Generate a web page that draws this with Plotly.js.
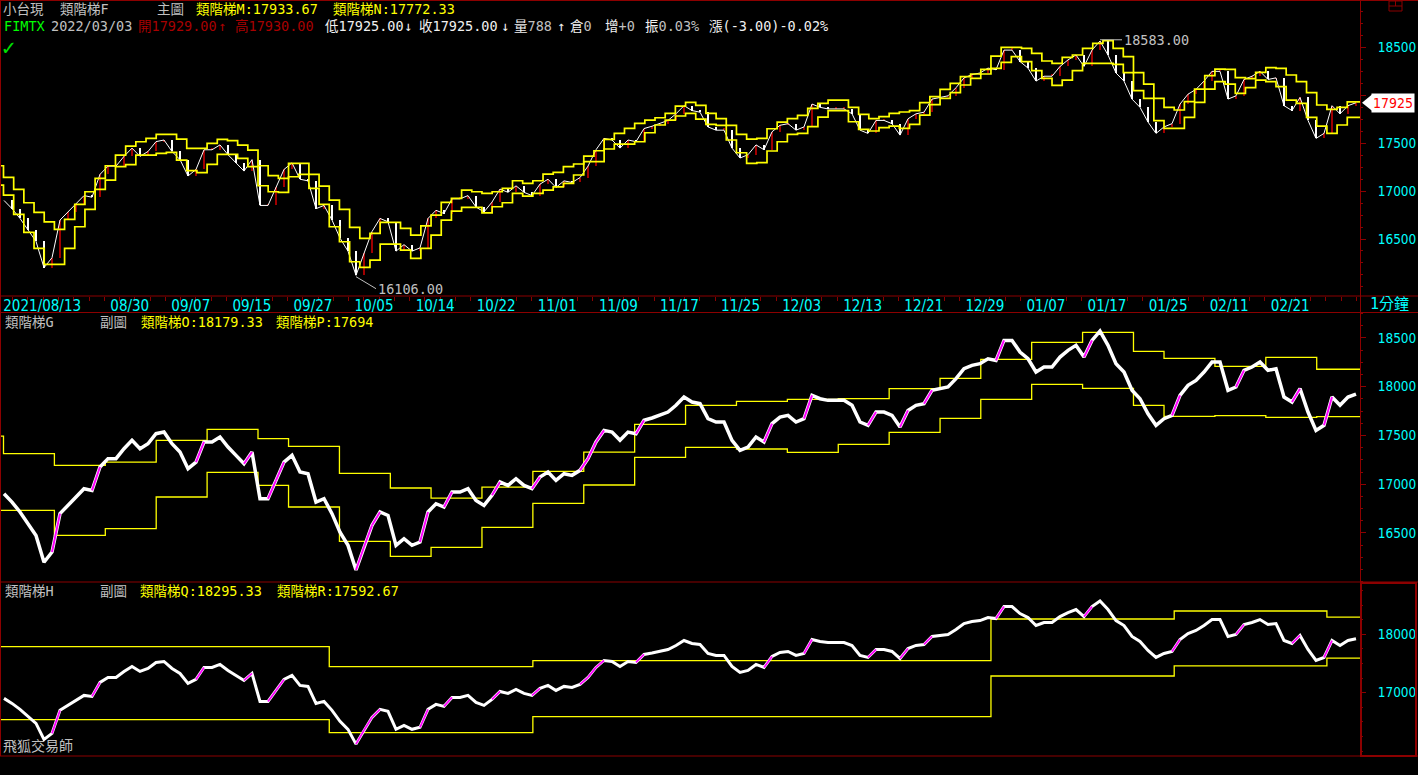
<!DOCTYPE html>
<html><head><meta charset="utf-8">
<script src="https://cdn.plot.ly/plotly-3.0.1.min.js"></script>
<style>html,body{margin:0;padding:0;background:#000;overflow:hidden}#chart{width:1418px;height:775px}</style>
</head><body><div id="chart"></div>
<script>
// ---------------- DATA ----------------
// price samples (8 bars apart)
const price = [16903, 16817, 16715, 16595, 16475, 16200, 16304, 16698, 16783, 16868,
 16954, 16937, 17176, 17262, 17262, 17364, 17450, 17364, 17415, 17518,
 17535, 17415, 17330, 17159, 17227, 17433, 17433, 17484, 17381, 17296,
 17210, 17330, 16851, 16851, 17039, 17227, 17296, 17125, 17108, 16817,
 16851, 16698, 16509, 16373, 16120, 16356, 16578, 16715, 16680, 16373,
 16441, 16373, 16407, 16715, 16800, 16766, 16920, 16920, 16954, 16834,
 16783, 16886, 17022, 16988, 17056, 16988, 16954, 17074, 17125, 17039,
 17108, 17091, 17142, 17262, 17433, 17552, 17535, 17450, 17535, 17518,
 17655, 17679, 17706, 17740, 17809, 17894, 17843, 17826, 17672, 17638,
 17638, 17450, 17347, 17381, 17484, 17433, 17621, 17689, 17706, 17638,
 17672, 17911, 17877, 17860, 17860, 17860, 17809, 17638, 17604, 17740,
 17740, 17706, 17586, 17757, 17809, 17826, 17963, 17980, 17997, 18082,
 18185, 18219, 18236, 18287, 18270, 18475, 18475, 18356, 18287, 18151,
 18202, 18202, 18304, 18373, 18424, 18304, 18475, 18570, 18424, 18236,
 18151, 17963, 17877, 17723, 17604, 17672, 17706, 17911, 18014, 18065,
 18151, 18253, 18253, 17963, 17997, 18168, 18202, 18253, 18168, 18185,
 17894, 17843, 17980, 17740, 17552, 17604, 17894, 17809, 17894, 17925];

// daily ladder (main chart): 類階梯M (upper) and 類階梯N (lower), one value per trading day (day -1 .. 132)
const ladderM = [17266, 17144, 17019, 16879, 16778, 16680, 16600, 16705, 16862, 16994,
 17134, 17266, 17378, 17472, 17517, 17552, 17594, 17594, 17545, 17448,
 17448, 17500, 17542, 17528, 17482, 17430, 17266, 17162, 17134, 17291,
 17291, 17176, 17053, 16907, 16809, 16621, 16506, 16558, 16673, 16673,
 16611, 16541, 16638, 16750, 16883, 16924, 17012, 16994, 16977, 16994,
 17029, 17109, 17081, 17109, 17179, 17196, 17256, 17284, 17367, 17423,
 17542, 17604, 17657, 17709, 17744, 17768, 17814, 17890, 17929, 17897,
 17814, 17758, 17688, 17594, 17545, 17552, 17653, 17723, 17758, 17793,
 17866, 17918, 17953, 17953, 17876, 17803, 17758, 17779, 17814, 17828,
 17842, 17925, 17988, 18065, 18127, 18197, 18225, 18274, 18413, 18504,
 18504, 18494, 18441, 18361, 18337, 18399, 18424, 18494, 18546, 18574,
 18494, 18406, 18239, 18120, 17971, 17876, 17849, 17936, 18068, 18208,
 18277, 18274, 18187, 18176, 18243, 18291, 18284, 18215, 18145, 18030,
 17901, 17855, 17876, 17934];
const ladderN = [17064, 16959, 16757, 16569, 16401, 16234, 16234, 16401, 16628, 16809,
 17019, 17116, 17256, 17277, 17378, 17378, 17395, 17406, 17325, 17214,
 17193, 17280, 17385, 17385, 17343, 17256, 17057, 16994, 16987, 17151,
 17176, 17029, 16862, 16628, 16471, 16262, 16203, 16279, 16447, 16447,
 16384, 16297, 16401, 16541, 16698, 16792, 16830, 16830, 16774, 16837,
 16879, 16977, 16949, 16977, 17012, 17046, 17081, 17169, 17308, 17308,
 17441, 17493, 17493, 17517, 17611, 17692, 17744, 17786, 17814, 17754,
 17699, 17688, 17535, 17402, 17291, 17298, 17420, 17517, 17594, 17604,
 17674, 17775, 17842, 17842, 17726, 17646, 17629, 17664, 17681, 17657,
 17699, 17796, 17904, 17971, 18030, 18110, 18180, 18225, 18284, 18347,
 18406, 18354, 18260, 18180, 18107, 18162, 18260, 18337, 18337, 18337,
 18326, 18239, 18051, 17971, 17737, 17657, 17657, 17772, 17929, 18068,
 18145, 18120, 18023, 18082, 18162, 18145, 18093, 17953, 17918, 17772,
 17681, 17604, 17692, 17772];

// weekly ladder (sub chart G): 類階梯O / 類階梯P, start day of each step
const ladderGStart = [-1, 0, 5, 10, 15, 20, 25, 28, 33, 38, 42, 47, 52, 57, 62, 67, 72, 77, 82, 87, 92, 96, 101, 106, 111, 114, 119, 124, 129];
const ladderO = [17494, 17313, 17193, 17227, 17450, 17563, 17467, 17388, 17111, 16961, 16858, 16971, 17132, 17330, 17614, 17809, 17850, 17870, 17877, 17980, 18086, 18280, 18455, 18557, 18363, 18291, 18209, 18301, 18179];
const ladderP = [16732, 16732, 16475, 16544, 16869, 17121, 16988, 16766, 16414, 16260, 16352, 16557, 16803, 16992, 17275, 17378, 17361, 17327, 17409, 17532, 17675, 17870, 18024, 17983, 17809, 17696, 17703, 17686, 17694];

// monthly ladder (sub chart H): 類階梯Q / 類階梯R
const ladderHStart = [-1, 32, 52, 97, 115, 130];
const ladderQ = [17789, 17447, 17550, 18262, 18399, 18295];
const ladderR = [16538, 16315, 16589, 17286, 17458, 17593];

// axes
const dateTickDay = [0, 12, 18, 24, 30, 36, 42, 48, 54, 60, 66, 72, 78, 84, 90, 96, 102, 108, 114, 120, 126];
const dateTickText = ['2021/08/13', '08/30', '09/07', '09/15', '09/27', '10/05', '10/14', '10/22', '11/01', '11/09', '11/17', '11/25', '12/03', '12/13', '12/21', '12/29', '01/07', '01/17', '01/25', '02/11', '02/21'];
const mainPriceTicks = [16500, 17000, 17500, 18000, 18500];
const mainPriceTickText = ['16500', '17000', '17500', '', '18500'];   // 18000 is covered by the last-price flag
const subGTicks = [16500, 17000, 17500, 18000, 18500];
const subHTicks = [17000, 18000];

const lowValue = 16106.00, highValue = 18583.00, lastPrice = 17925;

// ---------------- LAYOUT HELPERS ----------------
const W = 1418, H = 775;
const PX_PER_DAY = 10.18, DAY0_PX = 3.5, PLOT_R = 1360;
const X_MIN = -DAY0_PX / PX_PER_DAY, X_MAX = (PLOT_R - DAY0_PX) / PX_PER_DAY;
const priceDay = price.map((_, i) => (i * 8 + 0.5) / PX_PER_DAY);
const px = x => x / W, py = y => 1 - y / H;

const RED = '#8c0000', CYAN = '#00ffff', YEL = '#ffff00', GRAY = '#c0c0c0';
const MONO = "'DejaVu Sans Mono','Noto Sans CJK TC',monospace";
const NUMF = "'Liberation Sans Narrow','DejaVu Sans Condensed',sans-serif";

function stepTrace(start, vals, xa, ya, width) {
  return { type: 'scatter', mode: 'lines', x: start.concat([X_MAX + 1]), y: vals.concat([vals[vals.length - 1]]),
    xaxis: xa, yaxis: ya, line: { shape: 'hv', color: YEL, width: width }, hoverinfo: 'skip' };
}
function magentaTrace(xa, ya, width) {
  const x = [], y = [];
  for (let i = 1; i < price.length; i++) {
    if (price[i] - price[i - 1] > 110) { x.push(priceDay[i - 1], priceDay[i], null); y.push(price[i - 1], price[i], null); }
  }
  return { type: 'scatter', mode: 'lines', x, y, xaxis: xa, yaxis: ya, line: { color: '#ff00ff', width: width }, hoverinfo: 'skip' };
}

const topDays = ladderM.map((_, k) => k - 1);
const candleBase = [], candleH = [], candleC = [], candleX = [];
for (let i = 1; i < price.length; i++) {
  const o = price[i - 1], c = price[i];
  candleX.push(priceDay[i]);
  candleBase.push(Math.min(o, c));
  candleH.push(Math.max(Math.abs(c - o), 20));
  candleC.push(c >= o ? '#a00000' : '#ffffff');
}

const traces = [
  { type: 'scatter', mode: 'lines', x: priceDay, y: price, xaxis: 'x', yaxis: 'y', line: { color: '#ffffff', width: 1 }, hoverinfo: 'skip' },
  { type: 'bar', x: candleX, base: candleBase, y: candleH, width: 0.2, xaxis: 'x', yaxis: 'y', marker: { color: candleC, line: { width: 0 } }, hoverinfo: 'skip' },
  stepTrace(topDays, ladderM, 'x', 'y', 1.7),
  stepTrace(topDays, ladderN, 'x', 'y', 1.7),
  stepTrace(ladderGStart, ladderO, 'x2', 'y2', 1.3),
  stepTrace(ladderGStart, ladderP, 'x2', 'y2', 1.3),
  { type: 'scatter', mode: 'lines', x: priceDay, y: price, xaxis: 'x2', yaxis: 'y2', line: { color: '#ffffff', width: 3.5 }, hoverinfo: 'skip' },
  magentaTrace('x2', 'y2', 2),
  stepTrace(ladderHStart, ladderQ, 'x3', 'y3', 1.3),
  stepTrace(ladderHStart, ladderR, 'x3', 'y3', 1.3),
  { type: 'scatter', mode: 'lines', x: priceDay, y: price, xaxis: 'x3', yaxis: 'y3', line: { color: '#ffffff', width: 3 }, hoverinfo: 'skip' },
  magentaTrace('x3', 'y3', 1.8)
];

const dateTickPos = dateTickDay.map((d, k) => k === 0 ? d + 3.8 : d + 0.4);

const yBase = {
  side: 'right', showgrid: false, zeroline: false, showline: false, fixedrange: true,
  tickmode: 'array', ticks: 'outside', ticklen: 5, tickcolor: RED, tickwidth: 1,
  tickfont: { family: NUMF, size: 13.5, color: CYAN }, ticklabelstandoff: 9,
  minor: { ticks: 'outside', ticklen: 2, tickcolor: RED, dtick: 125, showgrid: false }
};
const xDomain = [0, PLOT_R / W];

function txt(x, y, text, color, size) {
  return { xref: 'paper', yref: 'paper', x: px(x), y: py(y), xanchor: 'left', yanchor: 'middle', text: text,
    showarrow: false, font: { family: MONO, size: size || 13.5, color: color } };
}
const DR = '#a80000', WH = '#f0f0f0';
const annotations = [
  txt(1, 9, '小台現', GRAY), txt(58, 9, '類階梯F', GRAY), txt(155, 9, '主圖', GRAY),
  txt(194, 9, '類階梯M:17933.67', YEL), txt(331, 9, '類階梯N:17772.33', YEL),
  txt(2, 26, 'FIMTX', '#00ff00'), txt(49, 26, '2022/03/03', GRAY),
  txt(136, 26, '開17929.00', DR), txt(216, 26, '↑', DR), txt(233, 26, '高17930.00', DR),
  txt(323, 26, '低17925.00', WH), txt(402, 26, '↓', WH), txt(417, 26, '收17925.00', WH), txt(499, 26, '↓', WH),
  txt(512, 26, '量<span style="color:#c0c0c0">788</span>', WH), txt(555, 26, '↑', WH),
  txt(568, 26, '倉<span style="color:#c0c0c0">0</span>', WH), txt(603, 26, '增<span style="color:#c0c0c0">+0</span>', WH),
  txt(643, 26, '振<span style="color:#c0c0c0">0.03%</span>', WH), txt(707, 26, '漲(-3.00)-0.02%', WH),
  txt(0, 47, '<b>✓</b>', '#00e000', 22),
  txt(3, 322, '類階梯G', GRAY), txt(98, 322, '副圖', GRAY), txt(139, 322, '類階梯O:18179.33', YEL), txt(274, 322, '類階梯P:17694', YEL),
  txt(3, 591, '類階梯H', GRAY), txt(98, 591, '副圖', GRAY), txt(138, 591, '類階梯Q:18295.33', YEL), txt(275, 591, '類階梯R:17592.67', YEL),
  txt(1, 746, '飛狐交易師', GRAY, 14),
  txt(1368, 304, '1分鐘', CYAN, 15),
  { xref: 'x', yref: 'y', x: priceDay[44], y: lowValue, text: lowValue.toFixed(2), showarrow: true, arrowhead: 0, arrowwidth: 1,
    arrowcolor: GRAY, ax: 20, ay: 12, xanchor: 'left', yanchor: 'middle', font: { family: MONO, size: 13.5, color: GRAY } },
  { xref: 'x', yref: 'y', x: priceDay[137], y: highValue, text: highValue.toFixed(2), showarrow: true, arrowhead: 0, arrowwidth: 1,
    arrowcolor: GRAY, ax: 22, ay: 0, xanchor: 'left', yanchor: 'middle', font: { family: MONO, size: 13.5, color: GRAY } },
  { xref: 'paper', yref: 'y', x: px(1371), y: lastPrice, text: String(lastPrice), showarrow: false, xanchor: 'left', yanchor: 'middle',
    bgcolor: '#ffffff', borderpad: 1, font: { family: NUMF, size: 14, color: '#ff0000' } }
];

function ln(x0, y0, x1, y1, w) {
  return { type: 'line', xref: 'paper', yref: 'paper', x0: px(x0), y0: py(y0), x1: px(x1), y1: py(y1), line: { color: RED, width: w || 1 }, layer: 'above' };
}
const shapes = [
  ln(0, 0.5, W, 0.5), ln(0.5, 0, 0.5, 756), ln(1360.5, 0, 1360.5, 756),
  ln(0, 296, W, 296), ln(0, 312.5, W, 312.5), ln(0, 582, W, 582), ln(0, 756, W, 756),
  { type: 'rect', xref: 'paper', yref: 'paper', x0: px(1361), y0: py(583), x1: px(1416), y1: py(756), line: { color: RED, width: 2 }, layer: 'above' },
  { type: 'rect', xref: 'paper', yref: 'paper', x0: px(1389), y0: py(1), x1: px(1402), y1: py(11), line: { color: RED, width: 1 }, layer: 'above' },
  ln(1389, 6, 1402, 6), ln(1395.5, 1, 1395.5, 6),
  { type: 'path', xref: 'paper', yref: 'y', path: `M ${px(1362)} ${lastPrice} L ${px(1372)} ${lastPrice + 85} L ${px(1372)} ${lastPrice - 85} Z`,
    fillcolor: '#ffffff', line: { width: 0 }, layer: 'above' }
];

const layout = {
  width: W, height: H, paper_bgcolor: '#000', plot_bgcolor: '#000', margin: { l: 0, r: 0, t: 0, b: 0, pad: 0 },
  showlegend: false, bargap: 0,
  xaxis: { domain: xDomain, range: [X_MIN, X_MAX], anchor: 'y', showgrid: false, zeroline: false, showline: false,
    tickmode: 'array', tickvals: dateTickPos, ticktext: dateTickText, ticks: '', ticklen: 0,
    tickfont: { family: NUMF, size: 15, color: CYAN }, ticklabelstandoff: -1,
    minor: { ticks: 'outside', ticklen: 4, tickcolor: RED, dtick: 1.5, tick0: 0.9, showgrid: false } },
  xaxis2: { domain: xDomain, range: [X_MIN, X_MAX], anchor: 'y2', visible: false },
  xaxis3: { domain: xDomain, range: [X_MIN, X_MAX], anchor: 'y3', visible: false },
  yaxis: Object.assign({}, yBase, { domain: [py(296), 1], range: [15904, 18999], anchor: 'x', tickvals: mainPriceTicks, ticktext: mainPriceTickText }),
  yaxis2: Object.assign({}, yBase, { domain: [py(582), py(313)], range: [15997, 18756], anchor: 'x2', tickvals: subGTicks, ticktext: subGTicks.map(String) }),
  yaxis3: Object.assign({}, yBase, { domain: [py(756), py(582)], range: [15916, 18896], anchor: 'x3', tickvals: subHTicks, ticktext: subHTicks.map(String),
    minor: { ticks: 'outside', ticklen: 2, tickcolor: RED, dtick: 250, showgrid: false } }),
  annotations, shapes
};

Plotly.newPlot('chart', traces, layout, { staticPlot: true, displayModeBar: false });
</script>
</body></html>
